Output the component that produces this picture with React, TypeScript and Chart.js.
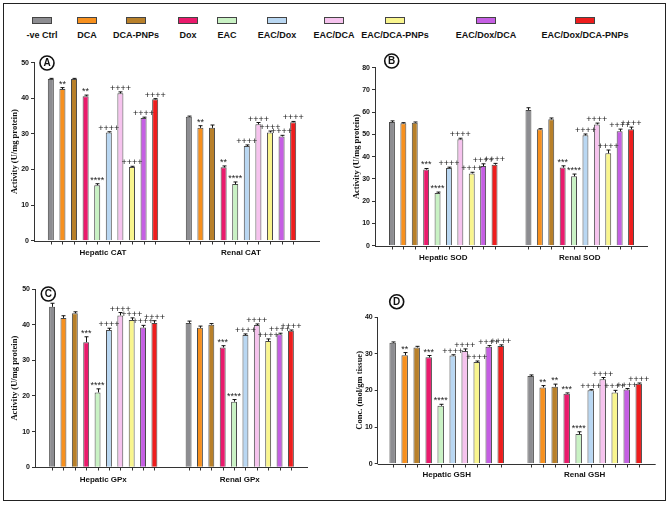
import React, { useEffect, useRef } from 'react';
import { Chart, registerables } from 'chart.js';
Chart.register(...registerables);

// ---------- data ----------
const treatments = ['-ve Ctrl', 'DCA', 'DCA-PNPs', 'Dox', 'EAC', 'EAC/Dox', 'EAC/DCA', 'EAC/DCA-PNPs', 'EAC/Dox/DCA', 'EAC/Dox/DCA-PNPs'];
const treatmentColors = ['#8d8d91', '#f7901e', '#b8802a', '#ea1a6c', '#c9f2c4', '#b9d7f2', '#f6c3ee', '#f9f58e', '#c55fe3', '#ee1d1d'];

const catsCAT = ['Hepatic CAT', 'Renal CAT'];
const hepaticCAT = [45.4, 42.6, 45.4, 40.6, 15.6, 30.4, 41.4, 20.7, 34.5, 39.7];
const renalCAT = [34.8, 31.7, 31.7, 20.6, 15.9, 26.6, 32.7, 30.4, 29.3, 33.3];
const hepaticCATErr = [0.2, 0.4, 0.2, 0.3, 0.4, 0.2, 0.4, 0.2, 0.2, 0.2];
const renalCATErr = [0.2, 0.6, 0.8, 0.4, 0.6, 0.3, 0.5, 0.4, 0.3, 0.2];
const hepaticCATSig = ['', '**', '', '**', '****', '++++', '++++', '++++', '++++', '++++'];
const renalCATSig = ['', '**', '', '**', '****', '++++', '++++', '++++', '++++', '++++'];

const catsSOD = ['Hepatic SOD', 'Renal SOD'];
const hepaticSOD = [55.6, 55.0, 55.3, 34.2, 23.7, 34.9, 47.8, 32.5, 35.8, 36.4];
const renalSOD = [61.0, 52.3, 56.8, 35.1, 31.2, 49.6, 54.5, 41.5, 51.4, 52.3];
const hepaticSODErr = [0.5, 0.3, 0.3, 0.5, 0.4, 0.4, 0.5, 0.5, 1.0, 0.6];
const renalSODErr = [1.0, 0.3, 0.6, 0.8, 1.0, 0.6, 0.6, 1.5, 1.0, 1.0];
const hepaticSODSig = ['', '', '', '***', '****', '++++', '++++', '++++', '++++', '++++'];
const renalSODSig = ['', '', '', '***', '****', '++++', '++++', '++++', '++++', '++++'];

const catsGPx = ['Hepatic GPx', 'Renal GPx'];
const hepaticGPx = [45.0, 41.9, 43.2, 35.1, 21.0, 38.5, 42.6, 41.3, 39.2, 40.5];
const renalGPx = [40.5, 39.1, 40.0, 33.6, 18.4, 37.1, 39.9, 35.4, 37.3, 38.3];
const hepaticGPxErr = [1.0, 0.6, 0.4, 1.5, 1.0, 0.5, 0.8, 0.6, 0.6, 0.6];
const renalGPxErr = [0.5, 0.5, 0.3, 0.5, 0.6, 0.3, 0.3, 0.6, 0.3, 0.2];
const hepaticGPxSig = ['', '', '', '***', '****', '++++', '++++', '++++', '++++', '++++'];
const renalGPxSig = ['', '', '', '***', '****', '++++', '++++', '++++', '++++', '++++'];

const catsGSH = ['Hepatic GSH', 'Renal GSH'];
const hepaticGSH = [33.0, 29.6, 31.7, 29.0, 15.8, 29.5, 30.7, 27.7, 31.9, 32.1];
const renalGSH = [23.9, 20.8, 21.0, 19.1, 8.1, 20.0, 23.0, 19.4, 20.2, 21.8];
const hepaticGSHErr = [0.2, 0.7, 0.3, 0.5, 0.4, 0.2, 0.6, 0.3, 0.3, 0.3];
const renalGSHErr = [0.3, 0.5, 0.7, 0.2, 0.6, 0.2, 0.5, 0.6, 0.3, 0.2];
const hepaticGSHSig = ['', '**', '', '***', '****', '++++', '++++', '++++', '++++', '++++'];
const renalGSHSig = ['', '**', '**', '***', '****', '++++', '++++', '++++', '++++', '++++'];

const yTitleActivity = 'Activity (U/mg protein)';
const yTitleConc = 'Conc. (mol/gm tissue)';

// ---------- layout ----------
const legendCenters = [42, 87, 136, 188, 227, 277, 334, 395, 486, 585];

type PanelCfg = {
  letter: string;
  cats: string[];
  values: number[][];
  errs: number[][];
  sigs: string[][];
  yMax: number;
  yTitle: string;
  box: { left: number; top: number; w: number; h: number };
  pad: { left: number; right: number; top: number; bottom: number };
  yW: number;
  xPad: number;
  ext: number;
  catPct: number;
  barPct: number;
  letterPos: [number, number];
};

const panels: PanelCfg[] = [
  {
    letter: 'A', cats: catsCAT, values: [hepaticCAT, renalCAT], errs: [hepaticCATErr, renalCATErr],
    sigs: [hepaticCATSig, renalCATSig], yMax: 50, yTitle: yTitleActivity,
    box: { left: 0, top: 40, w: 335, h: 230 }, pad: { left: 10, right: 25, top: 22.7, bottom: 7.3 },
    yW: 24, xPad: 7, ext: 10, catPct: 0.84, barPct: 0.52, letterPos: [47, 23],
  },
  {
    letter: 'B', cats: catsSOD, values: [hepaticSOD, renalSOD], errs: [hepaticSODErr, renalSODErr],
    sigs: [hepaticSODSig, renalSODSig], yMax: 80, yTitle: yTitleActivity,
    box: { left: 335, top: 40, w: 334, h: 230 }, pad: { left: 16.3, right: 21, top: 27.7, bottom: 2.3 },
    yW: 23.7, xPad: 7, ext: 0, catPct: 0.835, barPct: 0.52, letterPos: [56.7, 21],
  },
  {
    letter: 'C', cats: catsGPx, values: [hepaticGPx, renalGPx], errs: [hepaticGPxErr, renalGPxErr],
    sigs: [hepaticGPxSig, renalGPxSig], yMax: 50, yTitle: yTitleActivity,
    box: { left: 0, top: 270, w: 335, h: 238 }, pad: { left: 9.6, right: 27, top: 19, bottom: 18.7 },
    yW: 25.4, xPad: 8, ext: 0, catPct: 0.833, barPct: 0.52, letterPos: [48.3, 24],
  },
  {
    letter: 'D', cats: catsGSH, values: [hepaticGSH, renalGSH], errs: [hepaticGSHErr, renalGSHErr],
    sigs: [hepaticGSHSig, renalGSHSig], yMax: 40, yTitle: yTitleConc,
    box: { left: 335, top: 270, w: 334, h: 238 }, pad: { left: 19.6, right: 15.3, top: 47, bottom: 22.3 },
    yW: 23.1, xPad: 6.6, ext: 2, catPct: 0.87, barPct: 0.54, letterPos: [61.7, 31.7],
  },
];

function Panel({ cfg }: { cfg: PanelCfg }) {
  const ref = useRef<HTMLCanvasElement | null>(null);
  useEffect(() => {
    if (!ref.current) return;
    const datasets = treatments.map((t, i) => ({
      label: t,
      data: cfg.values.map((arr) => arr[i]),
      backgroundColor: treatmentColors[i],
      borderColor: '#4a4a4a',
      borderWidth: 1,
      categoryPercentage: cfg.catPct,
      barPercentage: cfg.barPct,
    }));
    const annot = {
      id: 'annot' + cfg.letter,
      afterDatasetsDraw(chart: any) {
        const ctx = chart.ctx;
        const ys = chart.scales.y;
        chart.data.datasets.forEach((ds: any, i: number) => {
          const meta = chart.getDatasetMeta(i);
          meta.data.forEach((bar: any, j: number) => {
            const v = ds.data[j];
            const e = cfg.errs[j][i];
            const yv = ys.getPixelForValue(v);
            const yt = ys.getPixelForValue(v + e);
            const x = Math.round(bar.x) + 0.5;
            ctx.save();
            ctx.strokeStyle = '#111';
            ctx.lineWidth = 1;
            ctx.beginPath();
            ctx.moveTo(x, yv);
            ctx.lineTo(x, yt);
            ctx.moveTo(x - 2, yt);
            ctx.lineTo(x + 2, yt);
            ctx.stroke();
            const s = cfg.sigs[j][i];
            if (s) {
              ctx.font = '9px "Liberation Sans", Arial, sans-serif';
              ctx.fillStyle = '#222';
              ctx.textAlign = 'center';
              ctx.textBaseline = 'alphabetic';
              ctx.fillText(s, bar.x, yt - 1);
            }
            ctx.restore();
          });
        });
      },
      afterDraw(chart: any) {
        const ctx = chart.ctx;
        const a = chart.chartArea;
        ctx.save();
        ctx.strokeStyle = '#333';
        ctx.lineWidth = 1;
        const yb = Math.round(a.bottom) + 0.5;
        ctx.beginPath();
        ctx.moveTo(a.left, yb);
        ctx.lineTo(a.right + cfg.ext, yb);
        chart.data.datasets.forEach((ds: any, i: number) => {
          chart.getDatasetMeta(i).data.forEach((bar: any) => {
            const x = Math.round(bar.x) + 0.5;
            ctx.moveTo(x, yb);
            ctx.lineTo(x, yb + 3);
          });
        });
        ctx.stroke();
        // circled letter
        const [cx, cy] = cfg.letterPos;
        ctx.lineWidth = 1.6;
        ctx.strokeStyle = '#111';
        ctx.beginPath();
        ctx.arc(cx, cy, 7, 0, Math.PI * 2);
        ctx.stroke();
        ctx.fillStyle = '#111';
        ctx.font = 'bold 10px "Liberation Sans", Arial, sans-serif';
        ctx.textAlign = 'center';
        ctx.textBaseline = 'middle';
        ctx.fillText(cfg.letter, cx, cy + 0.5);
        ctx.restore();
      },
    };
    const chart = new Chart(ref.current, {
      type: 'bar',
      data: { labels: cfg.cats, datasets },
      options: {
        responsive: false,
        animation: false,
        layout: { padding: cfg.pad },
        plugins: { legend: { display: false }, tooltip: { enabled: false } },
        scales: {
          x: {
            type: 'category',
            offset: true,
            grid: { display: false, drawTicks: false },
            border: { display: false },
            ticks: {
              font: { family: '"Liberation Sans", Arial, sans-serif', size: 8, weight: 'bold' },
              color: '#111',
              padding: cfg.xPad,
              maxRotation: 0,
              autoSkip: false,
            },
            afterFit: (s: any) => { s.height = 22; },
          },
          y: {
            min: 0,
            max: cfg.yMax,
            grid: { drawOnChartArea: false, drawTicks: true, tickLength: 3, color: '#333' },
            border: { display: true, color: '#333', width: 1 },
            ticks: {
              stepSize: 10,
              font: { family: '"Liberation Sans", Arial, sans-serif', size: 7, weight: 'bold' },
              color: '#111',
              padding: 2,
            },
            title: {
              display: true,
              text: cfg.yTitle,
              font: { family: '"Liberation Serif", "Times New Roman", serif', size: 8.5, weight: 'bold' },
              color: '#111',
              padding: 0,
            },
            afterFit: (s: any) => { s.width = cfg.yW; },
          },
        },
      } as any,
      plugins: [annot],
    });
    return () => chart.destroy();
  }, [cfg]);
  return (
    <canvas
      ref={ref}
      width={cfg.box.w}
      height={cfg.box.h}
      style={{ position: 'absolute', left: cfg.box.left, top: cfg.box.top, width: cfg.box.w, height: cfg.box.h }}
    />
  );
}

export default function App() {
  return (
    <div style={{ position: 'absolute', left: 0, top: 0, width: 669, height: 508, background: '#fff', fontFamily: '"Liberation Sans", Arial, sans-serif' }}>
      <div style={{ position: 'absolute', left: 3, top: 3, width: 663, height: 498, border: '1.5px solid #222', boxSizing: 'border-box' }} />
      {treatments.map((t, i) => (
        <div key={t} style={{ position: 'absolute', left: legendCenters[i] - 50, top: 17, width: 100, textAlign: 'center' }}>
          <div style={{ width: 20, height: 7, margin: '0 auto', background: treatmentColors[i], border: '1px solid #444', boxSizing: 'border-box' }} />
          <div style={{ marginTop: 6, fontSize: 9, fontWeight: 'bold', lineHeight: '10px', color: '#111', whiteSpace: 'nowrap' }}>{t}</div>
        </div>
      ))}
      {panels.map((p) => <Panel key={p.letter} cfg={p} />)}
    </div>
  );
}
